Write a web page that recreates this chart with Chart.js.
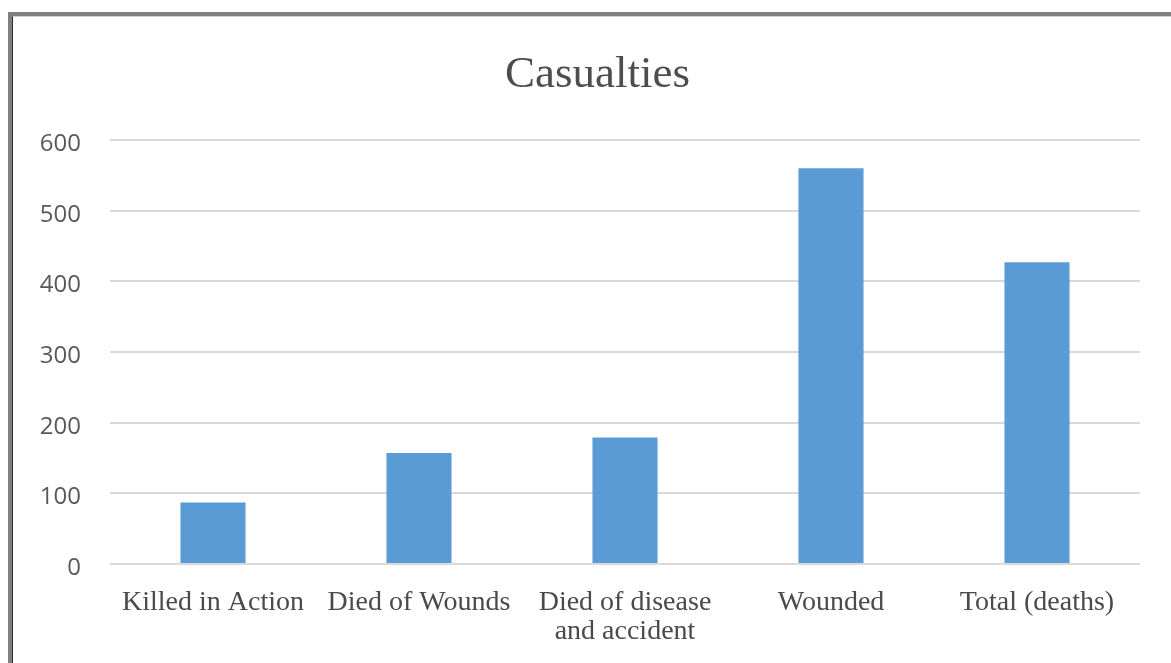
<!DOCTYPE html>
<html>
<head>
<meta charset="utf-8">
<script src="https://cdn.jsdelivr.net/npm/chart.js@4/dist/chart.umd.min.js"></script>
<style>
  html, body { margin: 0; padding: 0; background: #ffffff; }
  #wrap { position: relative; width: 1171px; height: 663px; overflow: hidden; }
  #chart { position: absolute; left: 0; top: 0; }
  /* sheet frame, drawn along the top and left edges */
  #frame {
    position: absolute; left: 8px; top: 12px; width: 1200px; height: 700px;
    border-left: 4px solid #808080; border-top: 4px solid #808080;
    pointer-events: none;
  }
  #frame-inner {
    position: absolute; left: 0; top: 0; width: 100%; height: 100%;
    border-left: 1px solid #2a2a2a; border-top: 1px solid #cfcfcf;
    box-sizing: border-box;
  }
</style>
</head>
<body>
<div id="wrap">
  <canvas id="chart" width="1171" height="663"></canvas>
  <div id="frame"><div id="frame-inner"></div></div>
</div>
<script>
// Casualty counts by category
const chartTitle = 'Casualties';
const categories = [
  'Killed in Action',
  'Died of Wounds',
  ['Died of disease', 'and accident'],
  'Wounded',
  'Total (deaths)'
];
const casualties = [87, 157, 179, 560, 427];
const yTicks = [0, 100, 200, 300, 400, 500, 600];

// Title text, placed a little left of the plot centre as in the sheet layout
const titlePlugin = {
  id: 'sheetTitle',
  afterDraw(chart) {
    const c = chart.ctx;
    c.save();
    c.font = '45px "Liberation Serif", "Times New Roman", serif';
    c.fillStyle = '#4d4d4d';
    c.textAlign = 'center';
    c.textBaseline = 'alphabetic';
    c.fillText(chartTitle, 597.5, 87);
    c.restore();
  }
};

const ctx = document.getElementById('chart').getContext('2d');
new Chart(ctx, {
  type: 'bar',
  data: {
    labels: categories,
    datasets: [{
      label: chartTitle,
      data: casualties,
      backgroundColor: '#5b9bd5',
      borderWidth: 0,
      categoryPercentage: 1.0,
      barPercentage: 0.316
    }]
  },
  plugins: [titlePlugin],
  options: {
    responsive: false,
    animation: false,
    devicePixelRatio: 1,
    layout: { padding: { left: 0, right: 31, top: 140, bottom: 0 } },
    plugins: {
      legend: { display: false },
      tooltip: { enabled: false },
      title: { display: false }
    },
    scales: {
      x: {
        grid: { display: false, drawTicks: false },
        border: { display: false },
        ticks: {
          color: '#4a4a4a',
          padding: 24,
          maxRotation: 0,
          autoSkip: false,
          font: { family: '"Liberation Serif", "Times New Roman", serif', size: 28, lineHeight: 1.05 }
        },
        afterFit(scale) { scale.height = 99; }
      },
      y: {
        min: 0,
        max: 600,
        afterBuildTicks(scale) { scale.ticks = yTicks.map(v => ({ value: v })); },
        grid: { color: '#d9d9d9', lineWidth: 2, drawTicks: false },
        border: { display: false },
        ticks: {
          color: '#595959',
          padding: 29,
          labelOffset: 4,
          font: { family: '"Open Sans", "Liberation Sans", sans-serif', size: 24 }
        },
        afterFit(scale) { scale.width = 110; }
      }
    }
  }
});
</script>
</body>
</html>
